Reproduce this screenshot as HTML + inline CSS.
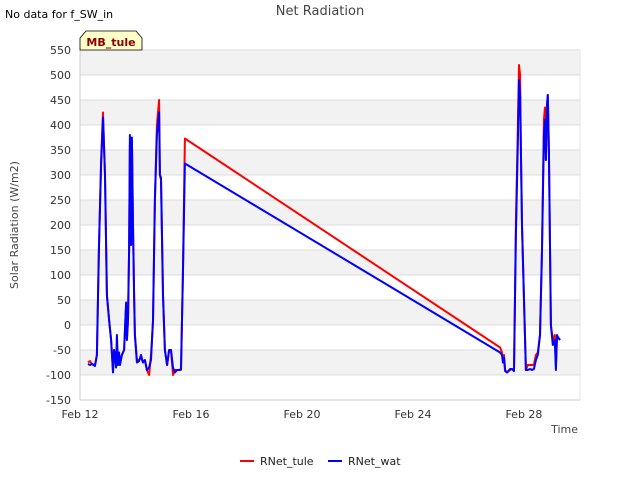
<!DOCTYPE html>
<html><head><meta charset="utf-8"><style>
body{margin:0;background:#fff;font-family:"Liberation Sans","DejaVu Sans",sans-serif}
svg text{font-family:"DejaVu Sans","Liberation Sans",sans-serif}
</style></head><body>
<svg id="c" width="640" height="480" xmlns="http://www.w3.org/2000/svg">
<rect width="640" height="480" fill="#fff"/>
<text x="5" y="18" font-size="11" fill="#000">No data for f_SW_in</text>
<text x="320" y="15" font-size="13" fill="#444" text-anchor="middle">Net Radiation</text>
<g id="grid"></g>
<g id="axes"></g>
<g id="series"></g>
<g>
<path d="M80,50 L80,38 L86,31 L136,31 L142,38 L142,50 Z" fill="#ffffc8" stroke="#000" stroke-width="0.8"/>
<text x="111" y="46" font-size="11" font-weight="bold" fill="#8b0000" text-anchor="middle">MB_tule</text>
</g>
<text x="18" y="225" font-size="11" fill="#444" text-anchor="middle" transform="rotate(-90 18 225)">Solar Radiation (W/m2)</text>
<text x="578" y="433" font-size="11" fill="#444" text-anchor="end">Time</text>
<g>
<line x1="240" y1="461" x2="254" y2="461" stroke="#ff0000" stroke-width="2"/>
<text x="260" y="465" font-size="11" fill="#222">RNet_tule</text></g>
<g>
<line x1="328" y1="461" x2="342" y2="461" stroke="#0000ff" stroke-width="2"/>
<text x="348" y="465" font-size="11" fill="#222">RNet_wat</text></g>
</svg>
<script>
const days=[0.29,0.36,0.43,0.54,0.61,0.68,0.76,0.83,0.90,0.97,1.05,1.12,1.19,1.23,1.26,1.30,1.33,1.37,1.41,1.44,1.51,1.59,1.66,1.69,1.73,1.77,1.80,1.84,1.87,1.91,1.95,1.98,2.05,2.13,2.20,2.27,2.34,2.41,2.49,2.56,2.63,2.70,2.77,2.85,2.88,2.92,2.99,3.06,3.14,3.21,3.28,3.35,3.42,3.50,3.57,3.64,3.71,3.78,15.14,15.21,15.24,15.28,15.32,15.39,15.50,15.57,15.64,15.71,15.78,15.82,15.86,15.89,15.93,16.00,16.07,16.14,16.22,16.29,16.36,16.43,16.50,16.58,16.65,16.72,16.76,16.79,16.83,16.86,16.90,16.97,17.04,17.11,17.15,17.19,17.23,17.30];
const rnetTule=[-75,-72,-78,-80,-60,150,330,425,300,60,10,-30,-90,-50,-70,-80,-40,-80,-60,-75,-60,-50,40,-30,10,150,360,160,370,200,60,-20,-70,-70,-65,-75,-70,-90,-100,-60,5,250,400,450,300,290,60,-50,-80,-50,-50,-100,-90,-90,-90,-90,100,373,-45,-55,-70,-60,-90,-95,-90,-88,-90,200,390,520,500,350,200,50,-90,-80,-80,-80,-80,-60,-55,-20,150,410,435,330,440,460,350,0,-30,-20,-80,-25,-25,-30];
const rnetWat=[-78,-80,-78,-82,-60,150,320,415,300,60,10,-30,-95,-50,-60,-85,-20,-80,-55,-80,-60,-50,45,-30,10,150,380,160,375,200,60,-20,-75,-72,-60,-75,-70,-90,-85,-70,10,250,380,425,300,295,60,-50,-80,-50,-50,-85,-95,-90,-90,-88,100,323,-55,-60,-75,-65,-92,-95,-88,-88,-92,180,360,490,460,350,200,50,-90,-90,-88,-90,-88,-70,-60,-20,150,380,410,330,440,460,350,0,-40,-30,-90,-20,-25,-30];
const yTicks=[-150,-100,-50,0,50,100,150,200,250,300,350,400,450,500,550];
const xTickDays=[0,4,8,12,16];
const xTickLabels=["Feb 12","Feb 16","Feb 20","Feb 24","Feb 28"];
const X0=80,X1=580,Y0=400,Y1=50,dMin=0,dMax=18.02,vMin=-150,vMax=550;
const sx=d=>X0+(d-dMin)/(dMax-dMin)*(X1-X0);
const sy=v=>Y0-(v-vMin)/(vMax-vMin)*(Y0-Y1);
const NS="http://www.w3.org/2000/svg";
function mk(t,a,p){const e=document.createElementNS(NS,t);for(const k in a)e.setAttribute(k,a[k]);p.appendChild(e);return e;}
const grid=document.getElementById('grid'),axes=document.getElementById('axes'),series=document.getElementById('series');
for(let i=0;i<yTicks.length-1;i++){
  if((yTicks.length-2-i)%2===0){
    const r=mk('rect',{x:X0,y:sy(yTicks[i+1]),width:X1-X0,height:sy(yTicks[i])-sy(yTicks[i+1]),fill:'#f2f2f2'},grid);
    
    
  }
}
yTicks.forEach(v=>{
  const l=mk('line',{x1:X0,x2:X1,y1:sy(v),y2:sy(v),stroke:'#dcdcdc','stroke-width':1},grid);
  
  
  const t=mk('text',{x:X0-9,y:sy(v)+4,'font-size':11,fill:'#333','text-anchor':'end'},axes);
  t.textContent=v;
  
  
});
const ax=mk('line',{x1:X0,x2:X0,y1:Y1,y2:Y0,stroke:'#ccc'},axes);


const bx=mk('line',{x1:X0,x2:X1,y1:Y0,y2:Y0,stroke:'#ccc'},axes);


const rx=mk('line',{x1:X1,x2:X1,y1:Y1,y2:Y0,stroke:'#e6e6e6'},axes);


xTickDays.forEach((d,i)=>{
  const t=mk('text',{x:sx(d),y:Y0+18,'font-size':11,fill:'#333','text-anchor':'middle'},axes);
  t.textContent=xTickLabels[i];
  
  
});
function line(vals,color,name){
  const pts=days.map((d,i)=>sx(d).toFixed(1)+','+sy(vals[i]).toFixed(1)).join(' ');
  const p=mk('polyline',{points:pts,fill:'none',stroke:color,'stroke-width':2,'stroke-linejoin':'round'},series);
  
  
}
line(rnetTule,'#ff0000','rnet-tule-line');
line(rnetWat,'#0000ff','rnet-wat-line');
</script>
</body></html>
